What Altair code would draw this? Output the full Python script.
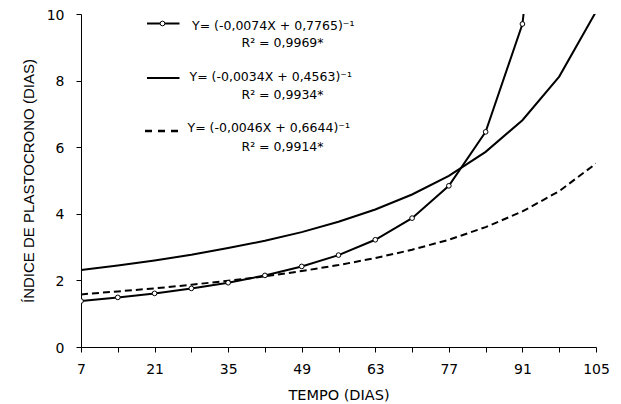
import altair as alt
import pandas as pd

# ---- data ----
dias = [7, 14, 21, 28, 35, 42, 49, 56, 63, 70, 77, 84, 91, 98, 105]
# curve 1 (open circles), last value (98) lies far above the plot and is clipped
ip_a = [1.38, 1.49, 1.61, 1.76, 1.93, 2.15, 2.42, 2.76, 3.22, 3.87, 4.84, 6.46, 9.70, 19.5]
# curve 2 (solid line)
ip_b = [2.31, 2.45, 2.60, 2.77, 2.97, 3.19, 3.45, 3.76, 4.13, 4.58, 5.14, 5.86, 6.81, 8.12, 10.07]
# curve 3 (dashed line)
ip_c = [1.58, 1.67, 1.76, 1.87, 1.99, 2.12, 2.28, 2.46, 2.67, 2.92, 3.22, 3.60, 4.07, 4.68, 5.51]

x_ticks = dias
y_ticks = [0, 2, 4, 6, 8, 10]

legend_eq = [
    "Y= (-0,0074X + 0,7765)\u207b\u00b9",
    "Y= (-0,0034X + 0,4563)\u207b\u00b9",
    "Y= (-0,0046X + 0,6644)\u207b\u00b9",
]
legend_r2 = ["R\u00b2 = 0,9969*", "R\u00b2 = 0,9934*", "R\u00b2 = 0,9914*"]

FONT = "DejaVu Sans"
FONT2 = "Liberation Sans"

df_a = pd.DataFrame({"x": dias[:len(ip_a)], "y": ip_a})
df_a_pts = df_a[df_a["x"] <= 91]
df_b = pd.DataFrame({"x": dias, "y": ip_b})
df_c = pd.DataFrame({"x": dias, "y": ip_c})

xs = alt.Scale(domain=[7, 105], nice=False, zero=False)
ys = alt.Scale(domain=[0, 10], nice=False)

x_axis = alt.Axis(
    values=x_ticks, labelExpr="datum.value % 14 == 7 ? datum.label : ''",
    title="TEMPO (DIAS)", grid=False, tickSize=5, tickColor="black",
    domainColor="black", labelColor="black", labelFont=FONT, labelFontSize=14,
    labelPadding=10, titleFont=FONT, titleFontSize=14.5, titleFontWeight="normal",
    titleColor="black", titlePadding=12, labelFlush=False, labelOverlap=False,
)
y_axis = alt.Axis(
    values=y_ticks, title="ÍNDICE DE PLASTOCRONO (DIAS)", grid=False, tickSize=5,
    tickColor="black", domainColor="black", labelColor="black", labelFont=FONT,
    labelFontSize=14, labelPadding=12, labelOffset=1, titleFont=FONT2, titleFontSize=15,
    titleFontWeight="normal", titleColor="black", titlePadding=10, labelFlush=False,
)

X = alt.X("x:Q", scale=xs, axis=x_axis)
Y = alt.Y("y:Q", scale=ys, axis=y_axis)

line_a = alt.Chart(df_a).mark_line(color="black", strokeWidth=2, clip=True).encode(x=X, y=Y)
pts_a = alt.Chart(df_a_pts).mark_point(
    shape="circle", filled=True, fill="white", stroke="black", strokeWidth=1,
    size=22, opacity=1, clip=True).encode(x=X, y=Y)
line_b = alt.Chart(df_b).mark_line(color="black", strokeWidth=2, clip=True).encode(x=X, y=Y)
line_c = alt.Chart(df_c).mark_line(color="black", strokeWidth=2, strokeDash=[7, 4], clip=True).encode(x=X, y=Y)

one = pd.DataFrame({"k": [0]})

# legend layout (pixels inside the plot area)
sample_y = [9.5, 64, 117]
text_y = [12, 63, 114]
r2_y = [29, 81, 133]
text_x = [111, 108.5, 106.5]

legend_layers = []
for i in range(3):
    dash = [7, 6] if i == 2 else [1, 0]
    sw = 2.5 if i == 2 else 2
    legend_layers.append(
        alt.Chart(one).mark_rule(color="black", strokeWidth=sw, strokeDash=dash).encode(
            x=alt.value(64 if i == 2 else 66), x2=alt.value(98.5), y=alt.value(sample_y[i]))
    )
    legend_layers.append(
        alt.Chart(one).mark_text(align="left", baseline="middle", font=FONT, fontSize=12.5,
                                 color="black").encode(
            x=alt.value(text_x[i]), y=alt.value(text_y[i]), text=alt.value(legend_eq[i]))
    )
    legend_layers.append(
        alt.Chart(one).mark_text(align="center", baseline="middle", font=FONT, fontSize=12.5,
                                 color="black").encode(
            x=alt.value(201.5), y=alt.value(r2_y[i]), text=alt.value(legend_r2[i]))
    )
legend_layers.append(
    alt.Chart(one).mark_point(shape="circle", filled=True, fill="white", stroke="black",
                              strokeWidth=1, size=22, opacity=1).encode(
        x=alt.value(81.5), y=alt.value(sample_y[0]))
)

chart = alt.layer(line_b, line_c, line_a, pts_a, *legend_layers).properties(
    width=515, height=333,
    autosize=alt.AutoSizeParams(type="none"),
    padding={"left": 73, "top": 6, "right": 17, "bottom": 56},
).configure_view(stroke=None)

chart.save("out.html", embed_options={"renderer": "svg", "actions": False})
